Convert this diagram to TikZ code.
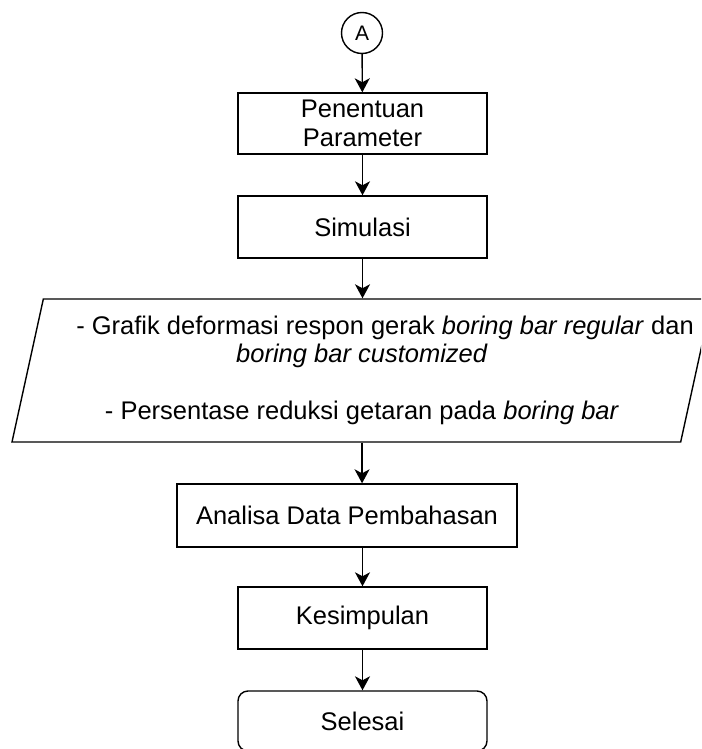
\documentclass[tikz,border=0pt]{standalone}
\usepackage{fontspec}
\setmainfont{Liberation Sans}
\usepackage{tikz}
\usetikzlibrary{shapes.geometric,arrows.meta,positioning}

\begin{document}
\begin{tikzpicture}[x=1pt,y=-1pt,line width=1.4pt,
            stepbox/.style = {rectangle, draw,
                minimum width = 249pt, minimum height = 62pt,
                font = \fontsize{25.5}{28.5}\selectfont},
            io/.style = {trapezium, draw,
                trapezium left angle = 74, trapezium right angle = 106,
                trapezium stretches body,
                minimum width = 700pt, minimum height = 143pt,
                inner sep = 0pt, align = center,
                font = \fontsize{25.5}{28.5}\selectfont},
            term/.style = {stepbox, rounded corners = 10pt},
            conn/.style = {draw, -{Stealth[length=14pt,width=15pt,inset=4pt]}}]

        \useasboundingbox (0,0) rectangle (701,749);
        \clip (0,0) rectangle (701,749);

        % Connector A
        \node[circle, draw, minimum size = 41pt, inner sep = 0pt,
              font = \fontsize{21}{24}\selectfont] (A) at (362,33) {A};

        % Steps
        \node[stepbox, minimum height = 61pt, align = center] (param) at (362.5,123.5)
            {Penentuan\\Parameter};
        \node[stepbox] (sim) at (362.5,227) {Simulasi};

        % Output
        \node[io] (out) at (362,370.5)
            {\hspace*{23pt}- Grafik deformasi respon gerak \textit{boring bar regular} dan\hspace*{-23pt}\\
             \textit{boring bar customized}\\[28.5pt]
             - Persentase reduksi getaran pada \textit{boring bar}};

        \node[stepbox, minimum width = 340pt, minimum height = 63pt] (analisa) at (347,515.5)
            {Analisa Data Pembahasan};
        \node[stepbox] (kes) at (362.5,618) {Kesimpulan};

        % End
        \node[term, minimum height = 60pt] (end) at (362.5,721) {Selesai};

        % Arrows
        \draw[conn] (A) -- (param);
        \draw[conn] (param) -- (sim);
        \draw[conn] (sim) -- (sim.south |- out.north);
        \draw[conn] (out.south) -- (out.south |- analisa.north);
        \draw[conn] (kes.north |- analisa.south) -- (kes);
        \draw[conn] (kes) -- (end);

\end{tikzpicture}
\end{document}
